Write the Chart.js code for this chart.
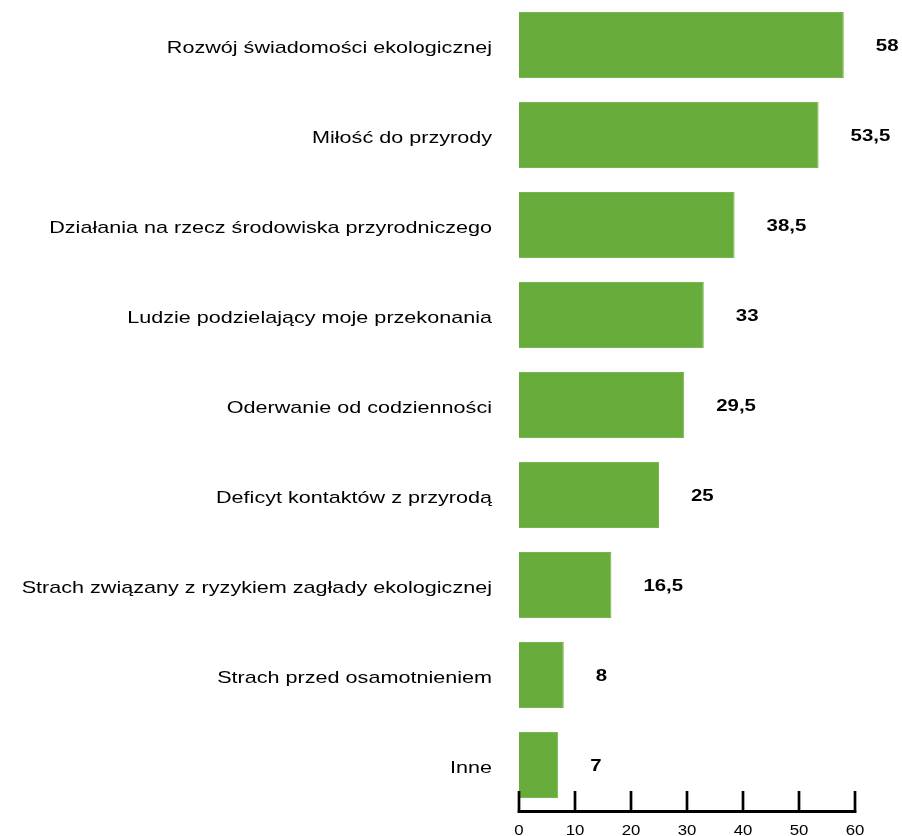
<!DOCTYPE html>
<html>
<head>
<meta charset="utf-8">
<script src="https://cdn.jsdelivr.net/npm/chart.js@4/dist/chart.umd.min.js"></script>
<style>
    html, body { margin: 0; padding: 0; background: #ffffff; }
    #chart { display: block; }
</style>
</head>
<body>
<canvas id="chart" width="902" height="836"></canvas>
<script>
// Categories and values (percent of answers)
const categories = [
    'Rozwój świadomości ekologicznej',
    'Miłość do przyrody',
    'Działania na rzecz środowiska przyrodniczego',
    'Ludzie podzielający moje przekonania',
    'Oderwanie od codzienności',
    'Deficyt kontaktów z przyrodą',
    'Strach związany z ryzykiem zagłady ekologicznej',
    'Strach przed osamotnieniem',
    'Inne'
];
const values = [58, 53.5, 38.5, 33, 29.5, 25, 16.5, 8, 7];
const valueLabels = ['58', '53,5', '38,5', '33', '29,5', '25', '16,5', '8', '7'];
const xTicks = [0, 10, 20, 30, 40, 50, 60];

const FONT = '"Liberation Sans", Arial, Helvetica, sans-serif';
const STRETCH = 1.27; // text is set a bit wide

// Draw text squeezed/stretched horizontally around its anchor point
function wideText(ctx, text, x, y, align, font, sx) {
    ctx.save();
    ctx.font = font;
    ctx.textAlign = align;
    ctx.textBaseline = 'middle';
    ctx.fillStyle = '#000000';
    ctx.translate(x, y);
    ctx.scale(sx, 1);
    ctx.fillText(text, 0, 0);
    ctx.restore();
}

/**
 * Category labels, bottom axis (ticks pointing up) and its labels
 */
const axesPlugin = {
    id: 'customAxes',
    afterDraw(chart) {
        const ctx = chart.ctx;
        const x = chart.scales.x;
        const y = chart.scales.y;
        const area = chart.chartArea;

        // category labels left of the bars
        categories.forEach((label, i) => {
            wideText(ctx, label, area.left - 27, y.getPixelForValue(i) + 3,
                'right', '17px ' + FONT, STRETCH);
        });

        // baseline
        const base = area.bottom + 1.5;
        ctx.save();
        ctx.strokeStyle = '#000000';
        ctx.lineWidth = 3;
        ctx.beginPath();
        ctx.moveTo(x.getPixelForValue(xTicks[0]) - 1.5, base);
        ctx.lineTo(x.getPixelForValue(xTicks[xTicks.length - 1]) + 1.5, base);
        ctx.stroke();

        // tick marks
        ctx.lineWidth = 2.7;
        xTicks.forEach(t => {
            const px = x.getPixelForValue(t);
            ctx.beginPath();
            ctx.moveTo(px, area.bottom);
            ctx.lineTo(px, area.bottom - 19);
            ctx.stroke();
        });
        ctx.restore();

        // tick labels
        xTicks.forEach(t => {
            wideText(ctx, String(t), x.getPixelForValue(t), area.bottom + 21,
                'center', '14px ' + FONT, 1.2);
        });
    }
};

/**
 * Value labels to the right of each bar
 */
const valuePlugin = {
    id: 'barValues',
    afterDatasetsDraw(chart) {
        const meta = chart.getDatasetMeta(0);
        meta.data.forEach((bar, i) => {
            wideText(chart.ctx, valueLabels[i], bar.x + 32, bar.y + 1,
                'left', 'bold 17px ' + FONT, 1.2);
        });
    }
};

const ctx = document.getElementById('chart').getContext('2d');
new Chart(ctx, {
    type: 'bar',
    data: {
        labels: categories,
        datasets: [{
            data: values,
            backgroundColor: '#68ad3c',
            borderColor: '#76b551',
            borderWidth: 1,
            categoryPercentage: 0.733,
            barPercentage: 1.0
        }]
    },
    options: {
        indexAxis: 'y',
        responsive: false,
        animation: false,
        layout: { padding: { top: 0, right: 47, bottom: 26, left: 519 } },
        plugins: {
            legend: { display: false },
            tooltip: { enabled: false }
        },
        scales: {
            x: { display: false, min: 0, max: 60 },
            y: { display: false }
        }
    },
    plugins: [axesPlugin, valuePlugin]
});
</script>
</body>
</html>
